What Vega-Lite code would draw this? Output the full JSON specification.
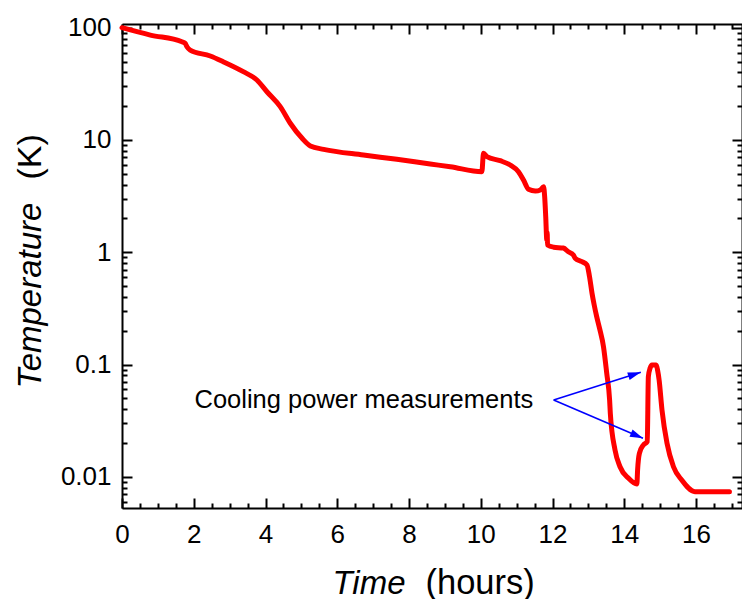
{
  "$schema": "https://vega.github.io/schema/vega-lite/v6.json",
  "autosize": "none",
  "padding": {"left": 122, "top": 24, "right": 0, "bottom": 91},
  "width": 620,
  "height": 484,
  "background": "white",
  "config": {
    "view": {"stroke": null},
    "axis": {"grid": false, "domainColor": "black", "domainWidth": 2, "tickColor": "black", "tickWidth": 2, "labelColor": "black", "titleColor": "black", "labelFont": "Liberation Sans", "titleFont": "Liberation Sans", "labelFontSize": 26, "titleFontSize": 33, "titleFontWeight": "normal", "labelFlush": false, "labelOverlap": false}
  },
  "datasets": {
    "curve": [
      {"t": 0, "T": 100}, {"t": 0.79, "T": 86}, {"t": 1.67, "T": 75}, {"t": 1.76, "T": 72.6}, {"t": 1.81, "T": 67.7}, {"t": 1.9, "T": 63.2},
      {"t": 2.46, "T": 56}, {"t": 2.82, "T": 49.8}, {"t": 3.38, "T": 40.6}, {"t": 3.76, "T": 34.2}, {"t": 4.04, "T": 26.9}, {"t": 4.41, "T": 19.8},
      {"t": 4.69, "T": 14.1}, {"t": 5.02, "T": 10.35}, {"t": 5.25, "T": 8.84}, {"t": 5.62, "T": 8.26}, {"t": 6.73, "T": 7.35}, {"t": 7.66, "T": 6.73},
      {"t": 8.59, "T": 6.11}, {"t": 9.15, "T": 5.78}, {"t": 10.03, "T": 5.22}, {"t": 10.075, "T": 7.62}, {"t": 10.17, "T": 7.1}, {"t": 10.54, "T": 6.54},
      {"t": 10.82, "T": 5.99}, {"t": 11.05, "T": 5.22}, {"t": 11.19, "T": 4.4}, {"t": 11.33, "T": 3.64}, {"t": 11.52, "T": 3.51}, {"t": 11.66, "T": 3.59},
      {"t": 11.75, "T": 3.84}, {"t": 11.78, "T": 3.13}, {"t": 11.81, "T": 2.07}, {"t": 11.84, "T": 1.29}, {"t": 11.85, "T": 1.5}, {"t": 11.86, "T": 1.16},
      {"t": 12.03, "T": 1.11}, {"t": 12.3, "T": 1.09}, {"t": 12.44, "T": 1.01}, {"t": 12.58, "T": 0.946}, {"t": 12.63, "T": 0.885}, {"t": 12.82, "T": 0.825},
      {"t": 12.96, "T": 0.771}, {"t": 13.03, "T": 0.607}, {"t": 13.1, "T": 0.432}, {"t": 13.16, "T": 0.34}, {"t": 13.23, "T": 0.267}, {"t": 13.31, "T": 0.21},
      {"t": 13.42, "T": 0.144}, {"t": 13.51, "T": 0.0837}, {"t": 13.59, "T": 0.0484}, {"t": 13.61, "T": 0.0368}, {"t": 13.74, "T": 0.0174}, {"t": 13.88, "T": 0.0123},
      {"t": 14.12, "T": 0.00972}, {"t": 14.35, "T": 0.00865}, {"t": 14.37, "T": 0.0115}, {"t": 14.42, "T": 0.0162}, {"t": 14.53, "T": 0.0192}, {"t": 14.64, "T": 0.0206},
      {"t": 14.67, "T": 0.078}, {"t": 14.72, "T": 0.093}, {"t": 14.77, "T": 0.099}, {"t": 14.89, "T": 0.099}, {"t": 14.93, "T": 0.088}, {"t": 14.97, "T": 0.0729}, {"t": 15.05, "T": 0.0394},
      {"t": 15.19, "T": 0.0199}, {"t": 15.37, "T": 0.0123}, {"t": 15.6, "T": 0.00937}, {"t": 15.97, "T": 0.00738}, {"t": 16.93, "T": 0.00738}
    ],
    "note": [{"t": 2.02, "T": 0.0411, "label": "Cooling power measurements"}],
    "arrows": [
      {"id": 1, "t": 12.03, "T": 0.0484, "t2": 14.46, "T2": 0.0853},
      {"id": 2, "t": 12.03, "T": 0.0484, "t2": 14.52, "T2": 0.0221}
    ]
  },
  "resolve": {"axis": {"x": "independent", "y": "independent"}},
  "layer": [
    {
      "data": {"name": "curve"},
      "mark": {"type": "line", "color": "#ff0000", "strokeWidth": 5, "strokeJoin": "round", "strokeCap": "round", "interpolate": "monotone"},
      "encoding": {
        "x": {"field": "t", "type": "quantitative", "scale": {"domain": [0, 17.28], "nice": false, "zero": false},
          "axis": {"orient": "bottom", "values": [0, 2, 4, 6, 8, 10, 12, 14, 16], "ticks": false, "tickSize": 0, "labelPadding": 13, "domain": true,
            "title": "Time", "titleFontStyle": "italic", "titleAlign": "right", "titleBaseline": "alphabetic", "titleAngle": 0, "titleX": 283, "titleY": 85}},
        "y": {"field": "T", "type": "quantitative", "scale": {"type": "log", "domain": [0.00528, 107.9], "nice": false},
          "axis": {"orient": "left", "values": [0.01, 0.1, 1, 10, 100], "format": "~g", "ticks": false, "tickSize": 0, "labelPadding": 11, "domain": true,
            "title": "Temperature", "titleFontStyle": "italic", "titleAlign": "left", "titleBaseline": "alphabetic", "titleAngle": -90, "titleX": -82, "titleY": 364}}
      }
    },
    {
      "data": {"name": "note"},
      "mark": {"type": "text", "align": "left", "baseline": "alphabetic", "font": "Liberation Sans", "fontSize": 25.5, "color": "black"},
      "encoding": {
        "x": {"field": "t", "type": "quantitative",
          "axis": {"orient": "bottom", "values": [0, 2, 4, 6, 8, 10, 12, 14, 16], "labels": false, "tickSize": -10, "domain": false,
            "title": "(hours)", "titleFontSize": 34.5, "titleAlign": "left", "titleBaseline": "alphabetic", "titleAngle": 0, "titleX": 303, "titleY": 85}},
        "y": {"field": "T", "type": "quantitative",
          "axis": {"orient": "left", "values": [0.01, 0.1, 1, 10, 100], "labels": false, "tickSize": -10, "domain": false,
            "title": "(K)", "titleFontSize": 34, "titleAlign": "left", "titleBaseline": "alphabetic", "titleAngle": -90, "titleX": -82, "titleY": 155}},
        "text": {"field": "label"}
      }
    },
    {
      "data": {"name": "arrows"},
      "mark": {"type": "rule", "color": "#0000ff", "strokeWidth": 1.6},
      "encoding": {
        "x": {"field": "t", "type": "quantitative",
          "axis": {"orient": "bottom", "values": [0.5, 1, 1.5, 2.5, 3, 3.5, 4.5, 5, 5.5, 6.5, 7, 7.5, 8.5, 9, 9.5, 10.5, 11, 11.5, 12.5, 13, 13.5, 14.5, 15, 15.5, 16.5, 17], "labels": false, "tickSize": -5, "domain": false, "title": null}},
        "x2": {"field": "t2"},
        "y": {"field": "T", "type": "quantitative",
          "axis": {"orient": "left", "values": [0.006, 0.007, 0.008, 0.009, 0.02, 0.03, 0.04, 0.05, 0.06, 0.07, 0.08, 0.09, 0.2, 0.3, 0.4, 0.5, 0.6, 0.7, 0.8, 0.9, 2, 3, 4, 5, 6, 7, 8, 9, 20, 30, 40, 50, 60, 70, 80, 90], "labels": false, "tickSize": -5, "domain": false, "title": null}},
        "y2": {"field": "T2"}
      }
    },
    {
      "data": {"name": "arrows"},
      "transform": [{"filter": "datum.id == 1"}],
      "mark": {"type": "point", "shape": "M0,0L-2,-0.6L-2,0.6Z", "size": 169, "filled": true, "color": "#0000ff", "opacity": 1, "angle": 342.4},
      "encoding": {
        "x": {"field": "t2", "type": "quantitative",
          "axis": {"orient": "top", "values": [0, 2, 4, 6, 8, 10, 12, 14, 16], "labels": false, "tickSize": -10, "domain": true, "title": null}},
        "y": {"field": "T2", "type": "quantitative",
          "axis": {"orient": "right", "values": [0.01, 0.1, 1, 10, 100], "labels": false, "tickSize": -10, "domain": true, "title": null}}
      }
    },
    {
      "data": {"name": "arrows"},
      "transform": [{"filter": "datum.id == 2"}],
      "mark": {"type": "point", "shape": "M0,0L-2,-0.6L-2,0.6Z", "size": 169, "filled": true, "color": "#0000ff", "opacity": 1, "angle": 23.2},
      "encoding": {
        "x": {"field": "t2", "type": "quantitative",
          "axis": {"orient": "top", "values": [0.5, 1, 1.5, 2.5, 3, 3.5, 4.5, 5, 5.5, 6.5, 7, 7.5, 8.5, 9, 9.5, 10.5, 11, 11.5, 12.5, 13, 13.5, 14.5, 15, 15.5, 16.5, 17], "labels": false, "tickSize": -5, "domain": false, "title": null}},
        "y": {"field": "T2", "type": "quantitative",
          "axis": {"orient": "right", "values": [0.006, 0.007, 0.008, 0.009, 0.02, 0.03, 0.04, 0.05, 0.06, 0.07, 0.08, 0.09, 0.2, 0.3, 0.4, 0.5, 0.6, 0.7, 0.8, 0.9, 2, 3, 4, 5, 6, 7, 8, 9, 20, 30, 40, 50, 60, 70, 80, 90], "labels": false, "tickSize": -5, "domain": false, "title": null}}
      }
    }
  ]
}
